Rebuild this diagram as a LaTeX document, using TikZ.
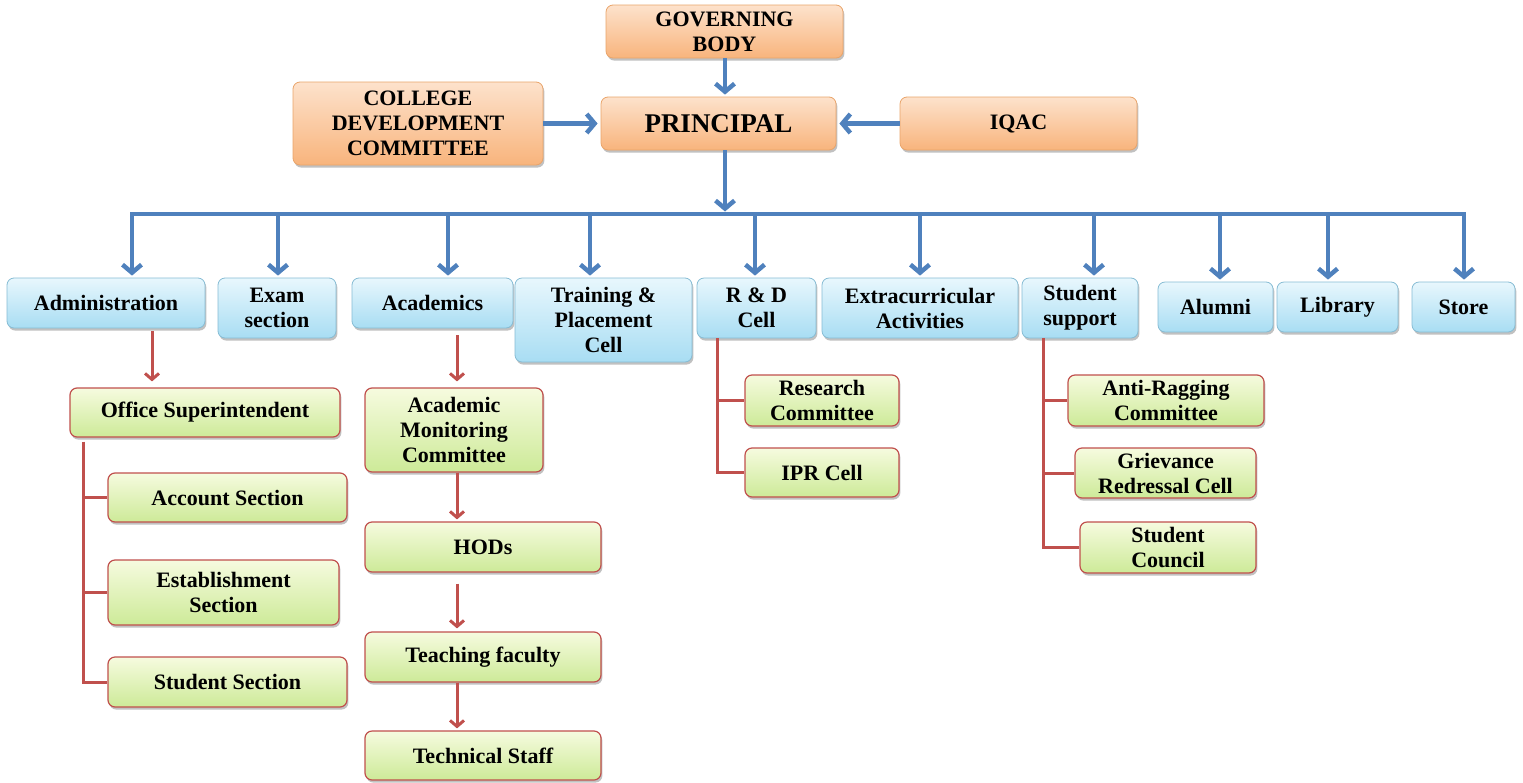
\documentclass[tikz,border=0pt]{standalone}
\usepackage{fontspec}
\setmainfont{Liberation Serif}[BoldFont={Liberation Serif Bold}]
\newfontfamily\tnr{Liberation Serif}[BoldFont={Liberation Serif Bold}]
\usetikzlibrary{arrows.meta,shadows}
\definecolor{bline}{HTML}{4F81BD}
\definecolor{rline}{HTML}{C0504D}
\definecolor{otop}{HTML}{FDE2CC}
\definecolor{obot}{HTML}{F8B47C}
\definecolor{obd}{HTML}{E9A46A}
\definecolor{btop}{HTML}{E8F7FD}
\definecolor{bbot}{HTML}{A8DDF3}
\definecolor{bbd}{HTML}{86BCD4}
\definecolor{gtop}{HTML}{F6FBDF}
\definecolor{gbot}{HTML}{CDEA98}
\begin{document}
\begin{tikzpicture}[x=1pt,y=-1pt,
  base/.style={rounded corners=7pt, align=center, inner sep=2pt,
    font=\tnr\fontsize{22}{25}\selectfont\bfseries, text=black,
    drop shadow={shadow xshift=1.4pt,shadow yshift=-2.6pt,opacity=.35,fill=black!70}},
  wh/.style 2 args={minimum width=#1pt, minimum height=#2pt},
  obox/.style={base, draw=obd, line width=0.8pt, top color=otop, bottom color=obot},
  bbox/.style={base, draw=bbd, line width=0.8pt, top color=btop, bottom color=bbot},
  gbox/.style={base, draw=rline, line width=1.2pt, top color=gtop, bottom color=gbot},
  bl/.style={draw=bline, line width=4.5pt},
  barrow/.style={bl, -{Straight Barb[length=8pt,width=19pt]}},
  rl/.style={draw=rline, line width=3pt},
  rarrow/.style={rl, -{Straight Barb[length=6pt,width=14pt]}}
]
\useasboundingbox (0,0) rectangle (1523,782);

% top level
\node[obox, wh={237}{53}] (gb) at (724.5,31.5) {GOVERNING\\BODY};
\node[obox, wh={250}{83}] (cdc) at (418,123.5) {COLLEGE\\DEVELOPMENT\\COMMITTEE};
\node[obox, wh={235}{53}, font=\tnr\fontsize{27}{30}\selectfont\bfseries] (pr) at (718.5,123.5) {PRINCIPAL};
\node[obox, wh={237}{53}] (iq) at (1018.5,123.5) {IQAC};

\coordinate (px) at (725,0);
\draw[barrow, shorten >=2pt] (gb.south -| px) -- (pr.north -| px);
\draw[barrow, shorten >=3pt] (cdc.east) -- (pr.west);
\draw[barrow, shorten >=3pt] (iq.west) -- (pr.east);

% second level
\node[bbox, wh={198}{50}] (adm) at (106,303) {Administration};
\node[bbox, wh={118}{60}] (exam) at (277,308) {Exam\\section};
\node[bbox, wh={161}{50}] (acad) at (432.5,303) {Academics};
\node[bbox, wh={177}{84}] (tp) at (603.5,320) {Training \&\\Placement\\Cell};
\node[bbox, wh={119}{60}] (rd) at (756.5,308) {R \& D\\Cell};
\node[bbox, wh={196}{60}] (ext) at (920,308) {Extracurricular\\Activities};
\node[bbox, wh={116}{60}] (ssp) at (1080,308) {Student\\support};
\node[bbox, wh={115}{50}] (alu) at (1215.5,307) {Alumni};
\node[bbox, wh={121}{50}] (lib) at (1337.5,307) {Library};
\node[bbox, wh={103}{50}] (sto) at (1463.5,307) {Store};

\foreach \n/\x in {adm/132, exam/278, acad/448, tp/590, rd/755, ext/920, ssp/1094, alu/1220, lib/1328, sto/1464}
  \coordinate (d\n) at (\x,214);
\draw[bl, line cap=rect] (dadm) -- (dsto);
\draw[barrow, shorten >=2.5pt] (pr.south -| px) -- (px |- dadm);
\foreach \n in {adm, exam, acad, tp, rd, ext, ssp, alu, lib, sto}
  \draw[barrow, shorten >=2pt] (d\n) -- (d\n |- \n.north);

% administration subtree
\node[gbox, wh={270}{49}] (ost) at (205,412.5) {Office Superintendent};
\node[gbox, wh={239}{49}] (acc) at (227.5,497.5) {Account Section};
\node[gbox, wh={231}{65}] (est) at (223.5,592.5) {Establishment\\Section};
\node[gbox, wh={239}{50}] (sts) at (227.5,682) {Student Section};
\coordinate (ax) at (152,0);
\draw[rarrow, shorten <=3pt, shorten >=6pt] (adm.south -| ax) -- (ost.north -| ax);
\coordinate (vx) at (83,0);
\draw[rl, shorten <=4pt] (ost.south -| vx) |- (sts.west);
\draw[rl] (vx |- acc.west) -- (acc.west);
\draw[rl] (vx |- est.west) -- (est.west);

% academics subtree
\node[gbox, wh={178}{84}] (amc) at (454,430) {Academic\\Monitoring\\Committee};
\node[gbox, wh={236}{50}] (hod) at (483,547) {HODs};
\node[gbox, wh={236}{50}] (tf) at (483,657) {Teaching faculty};
\node[gbox, wh={236}{49}] (ts) at (483,755.5) {Technical Staff};
\coordinate (cx) at (457,0);
\draw[rarrow, shorten <=7pt, shorten >=6pt] (acad.south -| cx) -- (amc.north -| cx);
\draw[rarrow, shorten >=2pt] (amc.south -| cx) -- (hod.north -| cx);
\draw[rarrow, shorten <=11pt, shorten >=3pt] (hod.south -| cx) -- (tf.north -| cx);
\draw[rarrow, shorten >=2pt] (tf.south -| cx) -- (ts.north -| cx);

% R & D subtree
\node[gbox, wh={154}{51}] (rc) at (822,400.5) {Research\\Committee};
\node[gbox, wh={154}{49}] (ipr) at (822,472.5) {IPR Cell};
\coordinate (rx) at (717,0);
\draw[rl] (rd.south -| rx) |- (ipr.west);
\draw[rl] (rx |- rc.west) -- (rc.west);

% student support subtree
\node[gbox, wh={196}{51}] (ar) at (1166,400.5) {Anti-Ragging\\Committee};
\node[gbox, wh={181}{50}] (gr) at (1165.5,473) {Grievance\\Redressal Cell};
\node[gbox, wh={176}{51}] (sc) at (1168,547.5) {Student\\Council};
\coordinate (sx) at (1043,0);
\draw[rl] (ssp.south -| sx) |- (sc.west);
\draw[rl] (sx |- ar.west) -- (ar.west);
\draw[rl] (sx |- gr.west) -- (gr.west);
\end{tikzpicture}
\end{document}
